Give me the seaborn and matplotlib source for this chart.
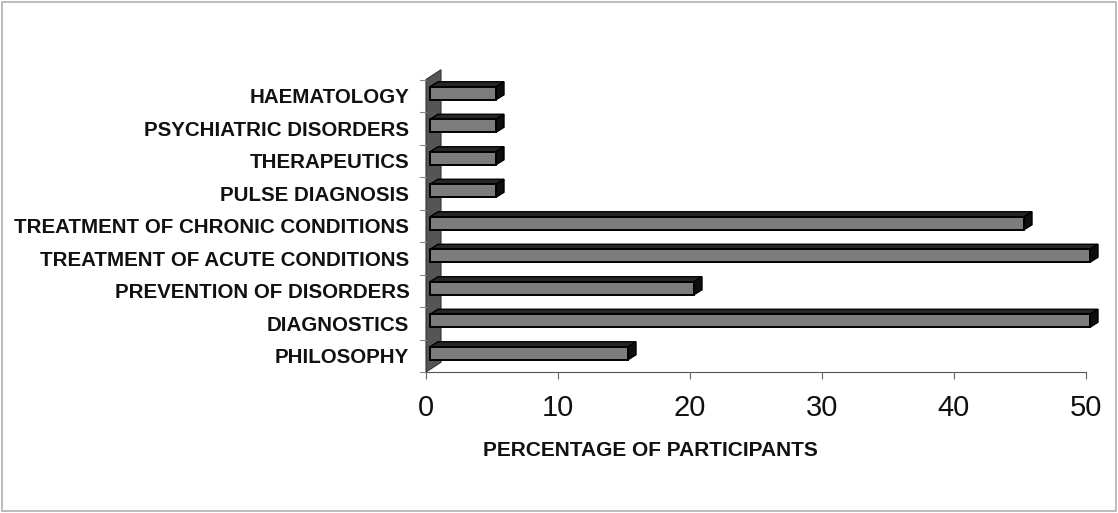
import matplotlib
matplotlib.use("Agg")
import matplotlib.pyplot as plt
from matplotlib.patches import Polygon, Rectangle
from matplotlib.transforms import offset_copy
import seaborn as sns
import pandas as pd

topics = [
    "HAEMATOLOGY",
    "PSYCHIATRIC DISORDERS",
    "THERAPEUTICS",
    "PULSE DIAGNOSIS",
    "TREATMENT OF CHRONIC CONDITIONS",
    "TREATMENT OF ACUTE CONDITIONS",
    "PREVENTION OF DISORDERS",
    "DIAGNOSTICS",
    "PHILOSOPHY",
]
percent = [5, 5, 5, 5, 45, 50, 20, 50, 15]
x_ticks = [0, 10, 20, 30, 40, 50]

df = pd.DataFrame({"topic": topics, "percent": percent})

sns.set_theme(style="white")
plt.rcParams["font.family"] = ["Liberation Sans", "DejaVu Sans"]

W, H = 1118, 513
DPI = 100
fig = plt.figure(figsize=(W / DPI, H / DPI), dpi=DPI)
fig.patch.set_facecolor("white")
# outer chart frame
fig.add_artist(Rectangle((0.002, 0.003), 0.996, 0.994, transform=fig.transFigure,
                         fill=False, edgecolor="#b0b0b0", linewidth=1.2))

ax_l, ax_r, ax_t, ax_b = 426, 1086, 79.5, 372
ax = fig.add_axes([ax_l / W, 1 - ax_b / H, (ax_r - ax_l) / W, (ax_b - ax_t) / H])

sns.barplot(data=df, x="percent", y="topic", orient="h", ax=ax,
            color="#7c7c7c", saturation=1, width=0.4,
            edgecolor="black", linewidth=1.4, zorder=3)

ax.set_xlim(0, 50)
ax.set_ylim(len(topics) - 0.5, -0.5)

# 3D depth of the bars, in pixels
depth_x, depth_y = 8, 5
# bars sit halfway into the depth of the plot box
bar_tr = offset_copy(ax.transData, fig=fig, x=depth_x / 2, y=depth_y / 2, units="dots")
back_tr = offset_copy(bar_tr, fig=fig, x=depth_x, y=depth_y, units="dots")
to_in = fig.dpi_scale_trans.inverted()

for p in list(ax.patches):
    p.set_transform(bar_tr)
    p.set_clip_on(False)
    x0, y0 = p.get_x(), p.get_y()
    w, h = p.get_width(), p.get_height()
    # top face: front top edge joined to the shifted back edge
    top_pts = to_in.transform(
        bar_tr.transform([(x0, y0), (x0 + w, y0)]).tolist()
        + back_tr.transform([(x0 + w, y0), (x0, y0)]).tolist())
    side_pts = to_in.transform(
        bar_tr.transform([(x0 + w, y0), (x0 + w, y0 + h)]).tolist()
        + back_tr.transform([(x0 + w, y0 + h), (x0 + w, y0)]).tolist())
    ax.add_patch(Polygon(top_pts, closed=True, transform=fig.dpi_scale_trans,
                         facecolor="#262626", edgecolor="black", linewidth=1.0,
                         zorder=2.9, clip_on=False))
    ax.add_patch(Polygon(side_pts, closed=True, transform=fig.dpi_scale_trans,
                         facecolor="#0e0e0e", edgecolor="black", linewidth=1.0,
                         zorder=2.9, clip_on=False))

# left wall of the plot box
wall_w = 15
wall_back = offset_copy(ax.transAxes, fig=fig, x=wall_w, y=wall_w * 0.65, units="dots")
wall_pts = to_in.transform(
    ax.transAxes.transform([(0, 0), (0, 1)]).tolist()
    + wall_back.transform([(0, 1), (0, 0)]).tolist())
ax.add_patch(Polygon(wall_pts, closed=True, transform=fig.dpi_scale_trans,
                     facecolor="#555555", edgecolor="#333333", linewidth=0.8,
                     zorder=1, clip_on=False))

ax.set_xticks(x_ticks)
ax.set_xticklabels([str(t) for t in x_ticks], fontsize=21)
ax.set_yticks(range(len(topics)))
ax.set_yticklabels(topics, fontsize=14.8, fontweight="bold", color="#111111")
ax.set_ylabel("")
ax.set_xlabel("PERCENTAGE OF PARTICIPANTS", fontsize=15, fontweight="bold",
              color="#111111")
ax.xaxis.set_label_coords(0.34, -0.235)

for s in ["top", "right", "left"]:
    ax.spines[s].set_visible(False)
ax.spines["bottom"].set_color("#555555")
ax.spines["bottom"].set_linewidth(0.8)

# category boundary ticks on the left
for b in range(len(topics) + 1):
    ax.plot([-0.45, 0], [b - 0.5, b - 0.5], color="#888888", linewidth=0.8,
            clip_on=False, zorder=1)

ax.tick_params(axis="x", length=5, width=0.8, color="#666666", pad=11,
               direction="out", bottom=True, labelcolor="#111111")
ax.tick_params(axis="y", length=0, pad=12)
ax.set_facecolor("white")

fig.savefig("out.png", dpi=DPI)
